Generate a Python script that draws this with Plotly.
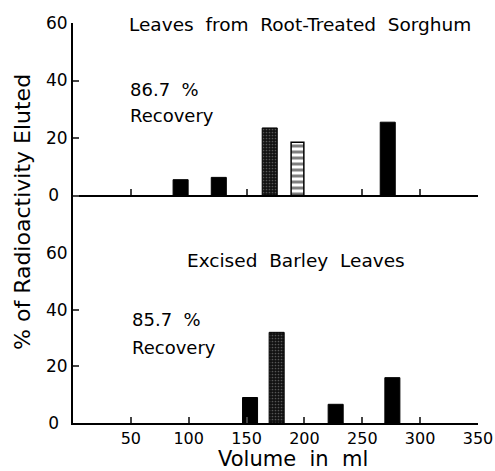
import plotly.graph_objects as go

# ---- data ----
top_solid_vol = [93, 126, 272]
top_solid_pct = [5.5, 6.3, 25.5]
top_stipple_vol = [170]
top_stipple_pct = [23.5]
top_stripe_vol = [194]
top_stripe_pct = [18.5]

bot_solid_vol = [153, 227, 276]
bot_solid_pct = [9.0, 6.6, 16.0]
bot_stipple_vol = [176]
bot_stipple_pct = [32.0]

x_ticks = [50, 100, 150, 200, 250, 300, 350]
top_x_ticks = [50, 150, 250, 300, 350]
y_ticks = [0, 20, 40, 60]
y_tick_text = ["0\u2002", "20", "40", "60"]

FONT = "DejaVu Sans"
BW = 13

fig = go.Figure()

def solid(x, y, ya):
    fig.add_trace(go.Bar(x=x, y=y, width=BW, yaxis=ya, xaxis="x" if ya == "y" else "x2",
                         marker=dict(color="black", line=dict(color="black", width=1)),
                         showlegend=False))

def stipple(x, y, ya):
    fig.add_trace(go.Bar(x=x, y=y, width=BW, yaxis=ya, xaxis="x" if ya == "y" else "x2",
                         marker=dict(color="#222",
                                     line=dict(color="black", width=1),
                                     pattern=dict(shape=".", fgcolor="#9a9a9a", bgcolor="#111111",
                                                  size=3, solidity=0.25)),
                         showlegend=False))

solid(bot_solid_vol, bot_solid_pct, "y")
stipple(bot_stipple_vol, bot_stipple_pct, "y")
solid(top_solid_vol, top_solid_pct, "y2")
stipple(top_stipple_vol, top_stipple_pct, "y2")
fig.add_trace(go.Bar(x=top_stripe_vol, y=top_stripe_pct, width=11, yaxis="y2", xaxis="x2",
                     marker=dict(color="white", line=dict(color="black", width=1.5),
                                 pattern=dict(shape="-", fgcolor="black", bgcolor="white",
                                              size=6, solidity=0.5)),
                     showlegend=False))

tickfont = dict(family=FONT, size=17, color="black")
xtickfont = dict(family=FONT, size=16, color="black")
fig.update_layout(
    width=495, height=471,
    margin=dict(l=73, r=17, t=23, b=48, autoexpand=False),
    paper_bgcolor="white", plot_bgcolor="white",
    barmode="overlay",
    xaxis=dict(domain=[0, 1], range=[0, 350], anchor="y", automargin=False,
               tickvals=x_ticks, ticks="inside", ticklen=6, tickwidth=1.5,
               showline=True, linecolor="black", linewidth=2,
               showgrid=False, zeroline=False, tickfont=xtickfont),
    xaxis2=dict(range=[0, 350], anchor="free", position=20 / 80 * 0.575 + 0.425,
                overlaying="x", tickvals=top_x_ticks, ticks="inside", ticklen=6, tickwidth=1.5,
                showticklabels=False, showline=True, linecolor="black", linewidth=2,
                showgrid=False, zeroline=False, automargin=False),
    yaxis=dict(domain=[0, 0.425], range=[0, 60], anchor="x", automargin=False,
               tickvals=y_ticks, ticktext=y_tick_text, ticks="inside", ticklen=6, tickwidth=1.5,
               showline=True, linecolor="black", linewidth=2,
               showgrid=False, zeroline=False, tickfont=tickfont),
    yaxis2=dict(domain=[0.425, 1], range=[-20, 60], anchor="x", automargin=False,
                tickvals=y_ticks, ticktext=y_tick_text, ticks="inside", ticklen=6, tickwidth=1.5,
                showline=True, linecolor="black", linewidth=2,
                showgrid=False, zeroline=False, tickfont=tickfont),
    font=dict(family=FONT, color="black"),
)

SP = "\u00a0 "
ann_font = dict(family=FONT, size=18, color="black")
anns = [
    dict(text=SP.join(["Leaves", "from", "Root-Treated", "Sorghum"]), x=196, y=59.5,
         xref="x", yref="y2", xanchor="center", yanchor="middle",
         font=dict(family=FONT, size=18.5, color="black")),
    dict(text="86.7\u00a0 %", x=47.5, y=37, xref="x", yref="y2", xanchor="left", yanchor="middle"),
    dict(text="Recovery", x=47.5, y=28, xref="x", yref="y2", xanchor="left", yanchor="middle"),
    dict(text=SP.join(["Excised", "Barley", "Leaves"]), x=193, y=57.5, xref="x", yref="y",
         xanchor="center", yanchor="middle", font=dict(family=FONT, size=18.5, color="black")),
    dict(text="85.7\u00a0 %", x=49, y=36.7, xref="x", yref="y", xanchor="left", yanchor="middle"),
    dict(text="Recovery", x=49, y=26.8, xref="x", yref="y", xanchor="left", yanchor="middle"),
    dict(text="% of Radioactivity Eluted", x=-0.126, y=0.5275, xref="paper", yref="paper",
         textangle=-90, xanchor="center", yanchor="middle",
         font=dict(family=FONT, size=22, color="black")),
    dict(text="Volume\u00a0 in\u00a0 ml", x=(293 - 73) / 405, y=(423 - 459) / 400,
         xref="paper", yref="paper", xanchor="center", yanchor="middle",
         font=dict(family=FONT, size=21, color="black")),
]
for a in anns:
    a.setdefault("font", ann_font)
    a["showarrow"] = False
    fig.add_annotation(**a)

fig.write_html("out.html", config={"displayModeBar": False},
               post_script="document.body.style.margin='0';")
